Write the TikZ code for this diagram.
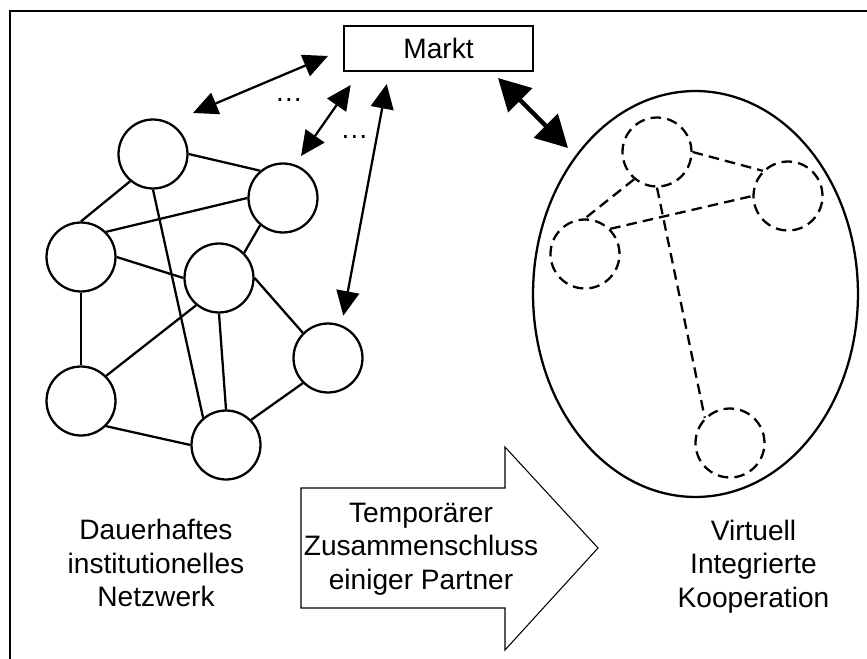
\documentclass[tikz,border=0pt]{standalone}
\usepackage{fontspec}
\setmainfont{Liberation Sans}
\usepackage{tikz}
\usetikzlibrary{arrows.meta,shapes.geometric}

\tikzset{
  partner/.style={draw, circle, line width=1.3pt, minimum size=1.38cm, inner sep=0pt},
  vpartner/.style={partner, dash pattern=on 6pt off 3.5pt},
  bez/.style={line width=1.3pt},
  vbez/.style={bez, dash pattern=on 6pt off 3.5pt},
  pfeil/.style={line width=1.3pt, {Triangle[length=14pt,width=13pt]}-{Triangle[length=14pt,width=13pt]}},
  dickpfeil/.style={line width=2.5pt, {Triangle[length=18pt,width=19pt]}-{Triangle[length=18pt,width=19pt]}},
  schrift/.style={font=\fontsize{16}{19}\selectfont, align=center, inner sep=0pt}
}

\begin{document}
\begin{tikzpicture}[x=0.02cm, y=-0.02cm]
        \useasboundingbox (0,0) rectangle (867,659);
        % Rahmen (rechts und unten abgeschnitten)
        \draw[line width=1.3pt] (10,659) -- (10,10.7) -- (867,10.7);

        % Markt oben
        \node[draw, line width=1.3pt, minimum width=3.78cm, minimum height=0.9cm, schrift] (markt) at (438.5,48.5) {Markt};

        % Dauerhaftes Netzwerk links
        \node[partner] (n1) at (153,154) {};
        \node[partner] (n2) at (283,198) {};
        \node[partner] (n3) at (81,257) {};
        \node[partner] (n4) at (219,278) {};
        \node[partner] (n5) at (328,358) {};
        \node[partner] (n6) at (81,401) {};
        \node[partner] (n7) at (226,445) {};

        \draw[bez] (n1.east) -- (n2.130);
        \draw[bez] (n1.230) -- (n3.north);
        \draw[bez] (n1.south) -- (n7.130);
        \draw[bez] (n3.45) -- (n2.west);
        \draw[bez] (n3.east) -- (n4.west);
        \draw[bez] (n2.230) -- (n4.45);
        \draw[bez] (n3.south) -- (n6.north);
        \draw[bez] (n6.45) -- (n4.230);
        \draw[bez] (n4.south) -- (n7.north);
        \draw[bez] (n4.east) -- (n5.135);
        \draw[bez] (n6.-45) -- (n7.west);
        \draw[bez] (n7.45) -- (n5.225);

        % Pfeile zum Markt
        \coordinate (p1u) at (193,113);
        \coordinate (p1o) at (328,56);
        \coordinate (p2u) at (301,156);
        \coordinate (p2o) at (350.7,85);
        \coordinate (p3u) at (343.3,315.7);
        \coordinate (p3o) at (386.7,84);
        \coordinate (p4o) at (498,78);
        \coordinate (p4u) at (568,148);
        \draw[pfeil] (p1u) -- (p1o);
        \draw[pfeil] (p2u) -- (p2o);
        \draw[pfeil] (p3o) -- (p3u);
        \draw[dickpfeil] (p4o) -- (p4u);
        \node[schrift] (dots1) at (289,100) {…};
        \node[schrift] (dots2) at (354.5,137) {…};

        % Virtuelle Kooperation rechts
        \node[draw, ellipse, line width=1.3pt, minimum width=6.5cm, minimum height=8.12cm, inner sep=0pt] (koop) at (695.5,294) {};
        \node[vpartner] (v1) at (657,152) {};
        \node[vpartner] (v2) at (788,196) {};
        \node[vpartner] (v3) at (585,254) {};
        \node[vpartner] (v4) at (730,443) {};

        \draw[vbez] (v1.east) -- (v2.135);
        \draw[vbez] (v1.230) -- (v3.north);
        \draw[vbez] (v3.45) -- (v2.west);
        \draw[vbez] (v1.south) -- (v4.135);

        % Blockpfeil unten
        \draw[line width=0.6pt] (301,488) -- (505,488) -- (505,447) -- (598,548) -- (505,650) -- (505,608) -- (301,608) -- cycle;
        \node[schrift] (temp) at (421,549) {Temporärer\\Zusammenschluss\\einiger Partner};

        % Beschriftungen
        \node[schrift] (netz) at (156,563) {Dauerhaftes\\institutionelles\\Netzwerk};
        \node[schrift] (virt) at (753.5,566.5) {Virtuell\\Integrierte\\Kooperation};
    \end{tikzpicture}
\end{document}
